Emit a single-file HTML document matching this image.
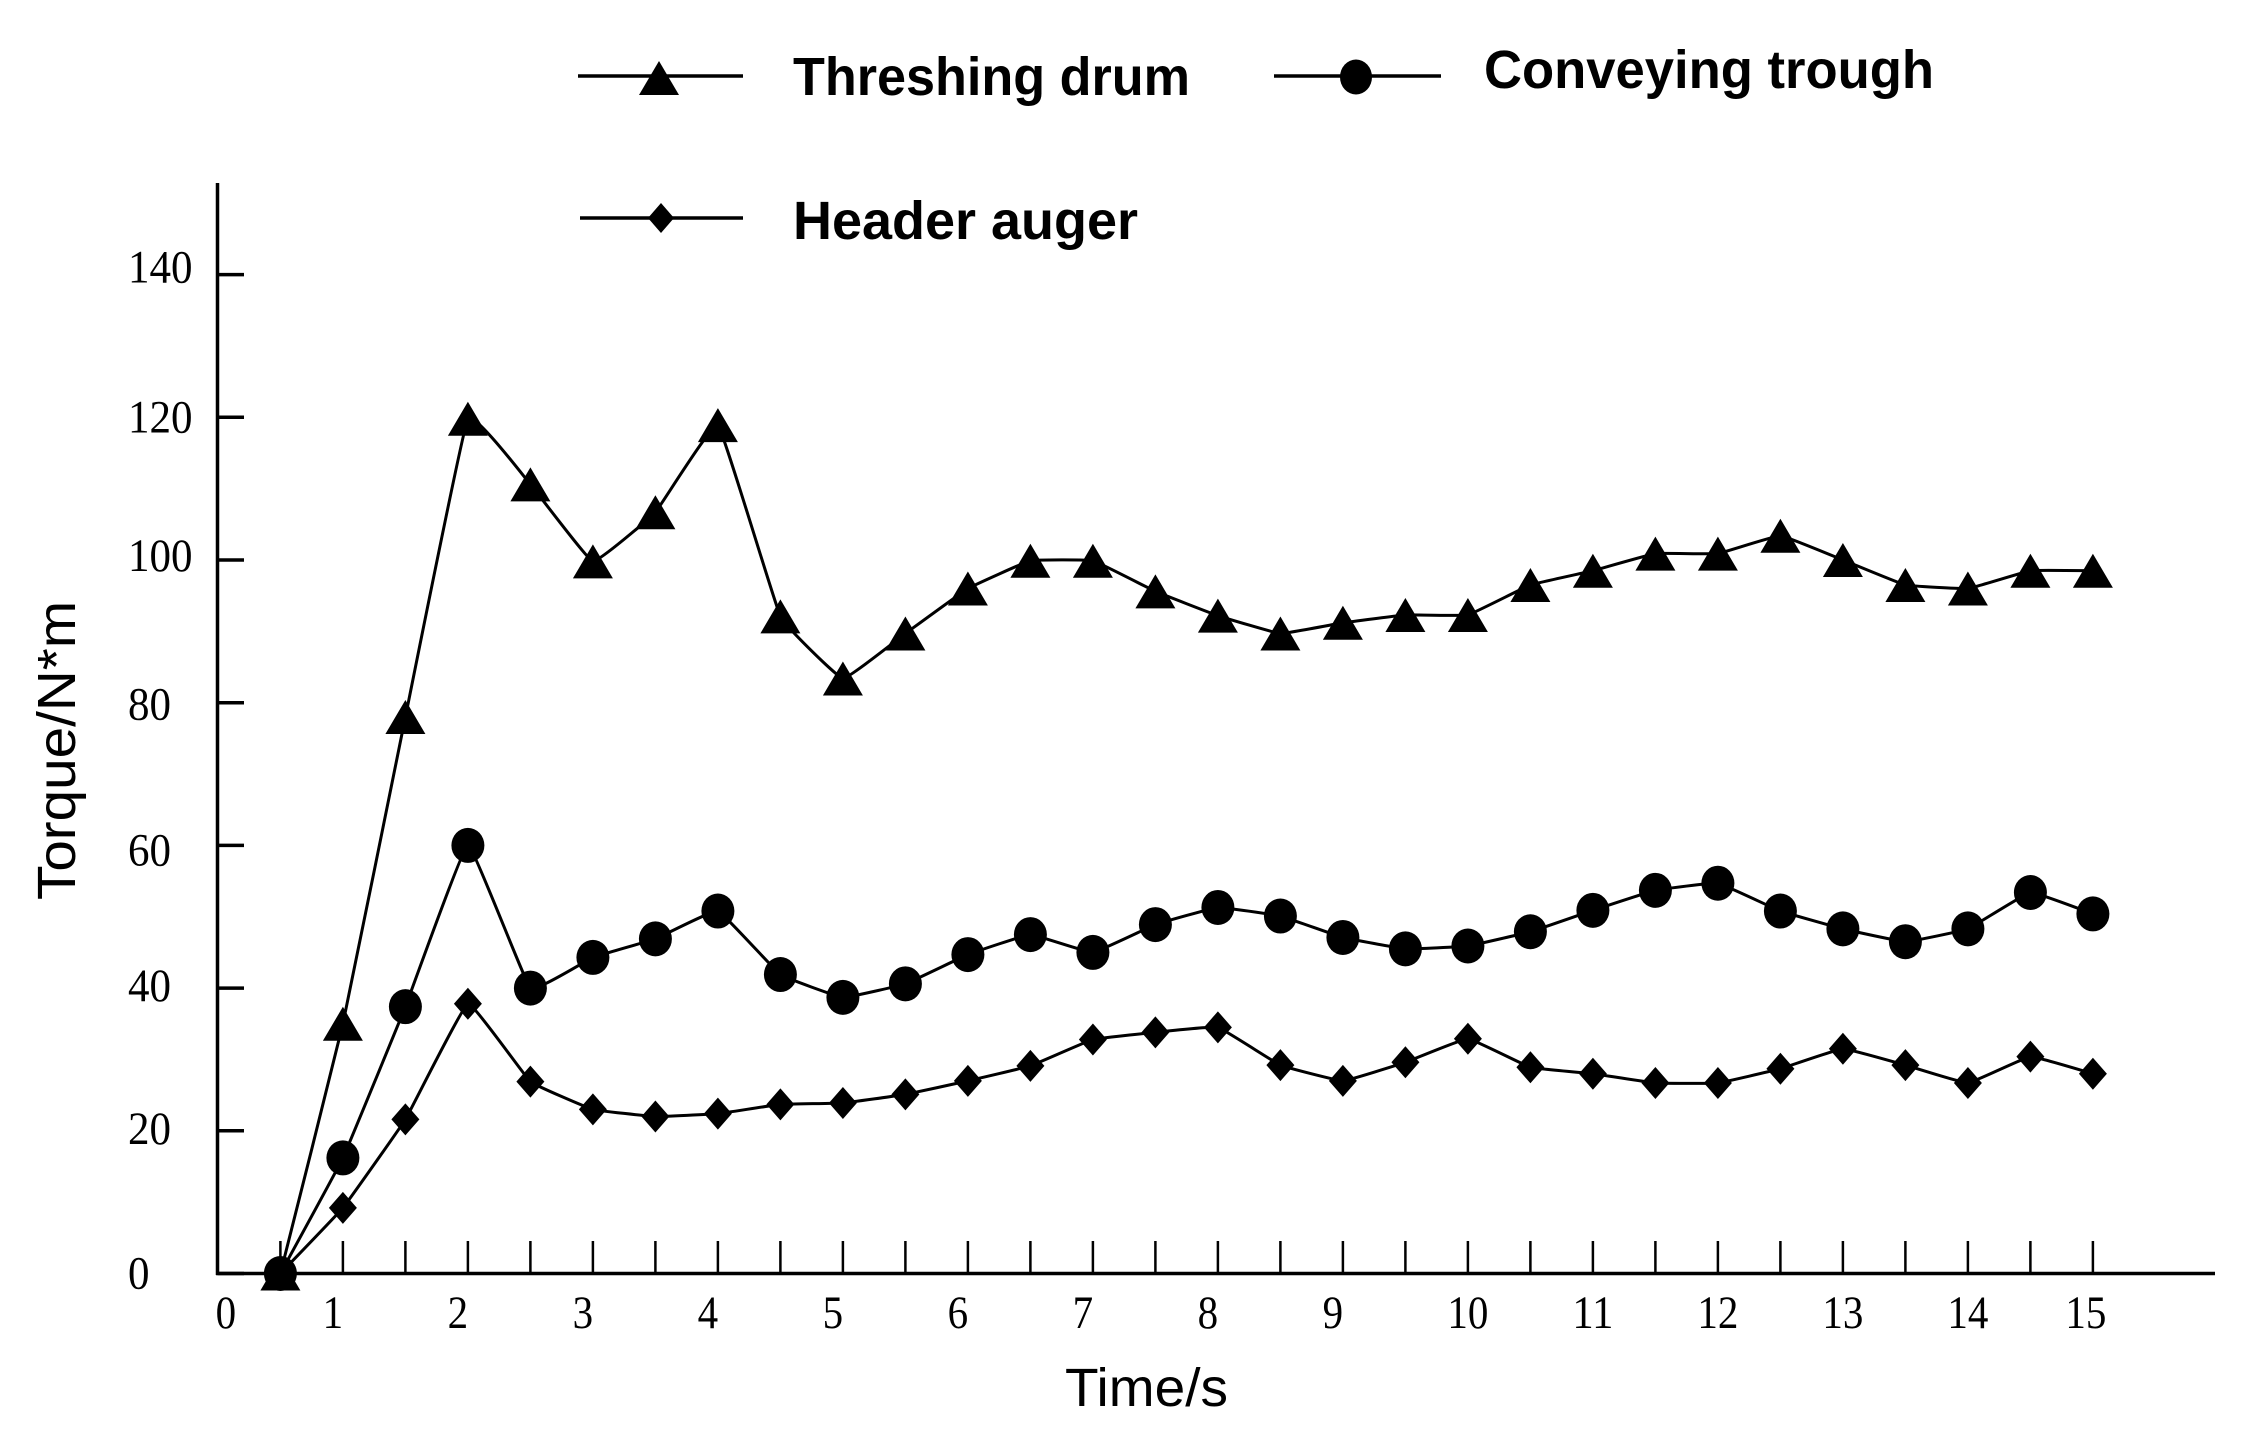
<!DOCTYPE html>
<html lang="en">
<head>
<meta charset="utf-8">
<title>Torque over time</title>
<style>
html,body{margin:0;padding:0;background:#fff;}
svg{display:block;}
text{fill:#000;}
.tick-label{font-family:"Liberation Serif",serif;font-size:47px;}
.legend-text{font-family:"Liberation Sans",sans-serif;font-size:54px;font-weight:bold;}
.axis-title{font-family:"Liberation Sans",sans-serif;font-size:54px;}
</style>
</head>
<body>
<svg id="chart" xmlns="http://www.w3.org/2000/svg" width="2249" height="1449" viewBox="0 0 2249 1449">
  <rect x="0" y="0" width="2249" height="1449" fill="#fff"/>
  <g id="axes"></g>
  <g id="series"></g>

  <g>
    <g>
      <line x1="578" y1="76" x2="743" y2="76" stroke="#000" stroke-width="3.5"/>
      <polygon points="659,61 679,95 639,95" fill="#000"/>
      <text class="legend-text" x="793" y="95" textLength="397" lengthAdjust="spacingAndGlyphs">Threshing drum</text>
    </g>
    <g>
      <line x1="1274" y1="76" x2="1441" y2="76" stroke="#000" stroke-width="3.5"/>
      <ellipse cx="1356" cy="77" rx="16" ry="17.5" fill="#000"/>
      <text class="legend-text" x="1484" y="88" textLength="450" lengthAdjust="spacingAndGlyphs">Conveying trough</text>
    </g>
    <g>
      <line x1="580" y1="218" x2="743" y2="218" stroke="#000" stroke-width="3.5"/>
      <polygon points="661,203 674,218 661,233 648,218" fill="#000"/>
      <text class="legend-text" x="793" y="239" textLength="345" lengthAdjust="spacingAndGlyphs">Header auger</text>
    </g>
  </g>

  <text class="axis-title" x="1065" y="1406" textLength="163" lengthAdjust="spacingAndGlyphs">Time/s</text>
  <text class="axis-title" transform="translate(75,900) rotate(-90)" x="0" y="0" textLength="299" lengthAdjust="spacingAndGlyphs">Torque/N*m</text>
</svg>

<script>
const times = [0.5,1,1.5,2,2.5,3,3.5,4,4.5,5,5.5,6,6.5,7,7.5,8,8.5,9,9.5,10,10.5,11,11.5,12,12.5,13,13.5,14,14.5,15];
const threshingDrum = [0,35,78,119.8,110.6,99.8,106.7,118.9,92.1,83.4,89.7,96,99.9,99.9,95.6,92.2,89.7,91.2,92.3,92.3,96.5,98.5,100.9,100.9,103.4,100,96.5,96,98.5,98.5];
const conveyingTrough = [0,16.2,37.4,60,40,44.3,46.9,50.8,41.9,38.7,40.6,44.7,47.5,45,48.9,51.3,50.1,47.1,45.5,45.9,47.9,50.9,53.7,54.7,50.8,48.3,46.5,48.3,53.4,50.4];
const headerAuger = [0,9.2,21.6,37.8,26.9,23,22,22.4,23.7,23.9,25.1,27,29.1,32.8,33.8,34.5,29.2,27,29.6,32.9,28.9,28,26.7,26.7,28.7,31.5,29.2,26.7,30.4,28];
const xTickLabels = [0,1,2,3,4,5,6,7,8,9,10,11,12,13,14,15];
const yTickLabels = [0,20,40,60,80,100,120,140];

const SVGNS = 'http://www.w3.org/2000/svg';
function xScale(t){ return 342.9 + (t - 1) * 125; }
function yScale(v){ return 1273.5 - v * 7.135; }
function xLabelDx(t){
  if (t === 0) return 8;
  if (t === 15) return -7;
  return t < 10 ? -10 : 0;
}
function make(tag, parent, attrs){
  const el = document.createElementNS(SVGNS, tag);
  for (const k in attrs) el.setAttribute(k, attrs[k]);
  parent.appendChild(el);
  return el;
}

const axes = document.getElementById('axes');

const yAxis = make('line', axes, {x1:217.5, y1:183, x2:217.5, y2:1275, stroke:'#000', 'stroke-width':3.5});



const xAxis = make('line', axes, {x1:216, y1:1273.5, x2:2215, y2:1273.5, stroke:'#000', 'stroke-width':3.5});



times.forEach(function(t){
  const tick = make('line', axes, {x1:xScale(t), y1:1241, x2:xScale(t), y2:1273, stroke:'#000', 'stroke-width':2.5});
  
  
});

xTickLabels.forEach(function(t){
  const label = make('text', axes, {x:xScale(t) + xLabelDx(t), y:1328, 'text-anchor':'middle', 'class':'tick-label', textLength:String(t).length * 20.5, lengthAdjust:'spacingAndGlyphs'});
  label.textContent = String(t);
  
  
});

function yLabelDy(v){
  if (v === 140) return -7;
  if (v === 100) return -4;
  if (v === 80) return 2;
  if (v === 60) return 5;
  if (v === 40 || v === 20) return -2;
  return 0;
}

yTickLabels.forEach(function(v){
  const tick = make('line', axes, {x1:217.5, y1:yScale(v), x2:244, y2:yScale(v), stroke:'#000', 'stroke-width':3.5});
  
  
  const label = make('text', axes, {x:128, y:yScale(v) + yLabelDy(v) + 15, 'class':'tick-label', textLength:String(v).length * 21.5, lengthAdjust:'spacingAndGlyphs'});
  label.textContent = String(v);
  
  
});

function drawLine(parent, values){
  const px = values.map(function(v, i){ return [xScale(times[i]), yScale(v)]; });
  const k = 0.04;
  let d = 'M' + px[0][0] + ' ' + px[0][1];
  for (let i = 0; i < px.length - 1; i++) {
    const p0 = px[Math.max(i - 1, 0)];
    const p1 = px[i];
    const p2 = px[i + 1];
    const p3 = px[Math.min(i + 2, px.length - 1)];
    d += ' C' + (p1[0] + (p2[0] - p0[0]) * k) + ' ' + (p1[1] + (p2[1] - p0[1]) * k)
       + ' ' + (p2[0] - (p3[0] - p1[0]) * k) + ' ' + (p2[1] - (p3[1] - p1[1]) * k)
       + ' ' + p2[0] + ' ' + p2[1];
  }
  return make('path', parent, {d:d, fill:'none', stroke:'#000', 'stroke-width':3});
}
function triangle(parent, cx, cy){
  return make('polygon', parent, {points:(cx)+','+(cy-17)+' '+(cx+20)+','+(cy+17)+' '+(cx-20)+','+(cy+17), fill:'#000'});
}
function circle(parent, cx, cy){
  return make('ellipse', parent, {cx:cx, cy:cy, rx:16.5, ry:17.5, fill:'#000'});
}
function diamond(parent, cx, cy){
  return make('polygon', parent, {points:cx+','+(cy-16)+' '+(cx+14)+','+cy+' '+cx+','+(cy+16)+' '+(cx-14)+','+cy, fill:'#000'});
}

const seriesRoot = document.getElementById('series');

const headerGroup = make('g', seriesRoot, {});


const headerLine = drawLine(headerGroup, headerAuger);


headerAuger.forEach(function(v, i){
  const m = diamond(headerGroup, xScale(times[i]), yScale(v));
  
  
});

const conveyingGroup = make('g', seriesRoot, {});


const conveyingLine = drawLine(conveyingGroup, conveyingTrough);


conveyingTrough.forEach(function(v, i){
  const m = circle(conveyingGroup, xScale(times[i]), yScale(v));
  
  
});

const threshingGroup = make('g', seriesRoot, {});


const threshingLine = drawLine(threshingGroup, threshingDrum);


threshingDrum.forEach(function(v, i){
  const m = triangle(threshingGroup, xScale(times[i]), yScale(v));
  
  
});
</script>
</body>
</html>
